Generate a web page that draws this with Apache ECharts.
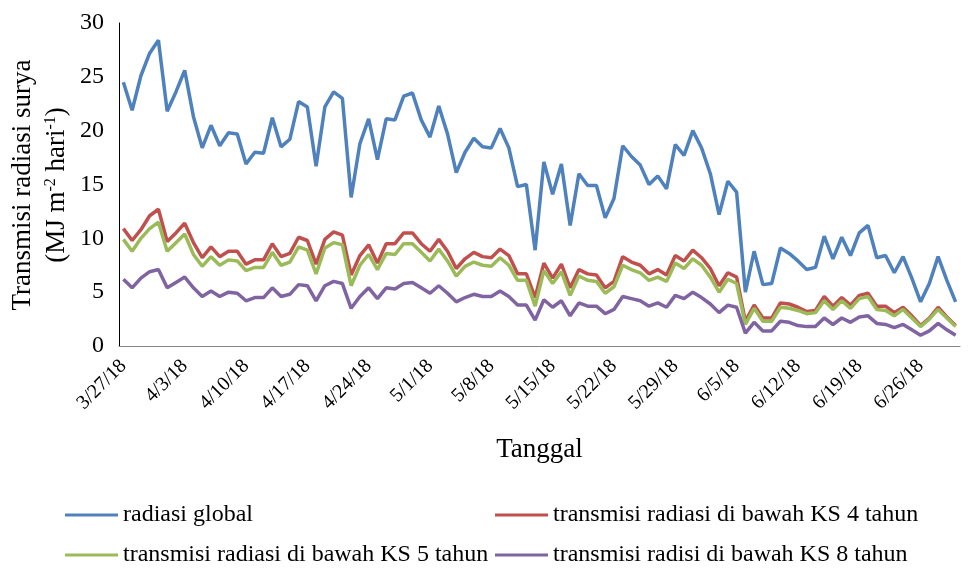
<!DOCTYPE html>
<html>
<head>
<meta charset="utf-8">
<title>Transmisi radiasi surya</title>
<script src="https://cdn.jsdelivr.net/npm/echarts@6.0.0/dist/echarts.min.js"></script>
<style>
  html, body { margin: 0; padding: 0; background: #fff; }
  #chart { width: 969px; height: 574px; }
</style>
</head>
<body>
<div id="chart"></div>
<script>
// daily values, 3/27/18 .. 6/30/18 (96 days)
const startDate = [2018, 3, 27];
const dayCount = 96;

const radiasiGlobal = [
  24.5, 21.9, 25.1, 27.2, 28.4, 21.8, 23.6, 25.6, 21.3, 18.4, 20.5, 18.6, 19.8, 19.7, 16.9, 18.0,
  17.9, 21.2, 18.5, 19.2, 22.7, 22.2, 16.7, 22.2, 23.6, 23.0, 13.8, 18.8, 21.1, 17.3, 21.1, 21.0,
  23.2, 23.5, 21.0, 19.4, 22.3, 19.7, 16.1, 18.0, 19.3, 18.5, 18.4, 20.2, 18.4, 14.8, 15.0, 8.9,
  17.1, 14.1, 16.9, 11.2, 16.0, 14.9, 14.9, 11.9, 13.7, 18.6, 17.6, 16.8, 15.0, 15.8, 14.6, 18.7,
  17.7, 20.0, 18.4, 16.0, 12.2, 15.3, 14.3, 5.0, 8.8, 5.7, 5.8, 9.1, 8.6, 7.9, 7.1, 7.3,
  10.2, 8.1, 10.1, 8.4, 10.5, 11.2, 8.2, 8.4, 6.8, 8.3, 6.3, 4.1, 5.8, 8.3, 6.1, 4.1
];
const ks4 = [
  10.9, 9.8, 10.8, 12.1, 12.7, 9.7, 10.5, 11.4, 9.6, 8.2, 9.2, 8.3, 8.8, 8.8, 7.6, 8.0,
  8.0, 9.5, 8.3, 8.6, 10.1, 9.8, 7.6, 9.9, 10.6, 10.3, 6.6, 8.4, 9.4, 7.7, 9.5, 9.5,
  10.5, 10.5, 9.5, 8.8, 9.9, 8.8, 7.2, 8.1, 8.7, 8.3, 8.2, 9.0, 8.4, 6.7, 6.7, 4.5,
  7.7, 6.3, 7.6, 5.4, 7.1, 6.7, 6.6, 5.4, 6.0, 8.3, 7.8, 7.5, 6.7, 7.1, 6.6, 8.4,
  7.9, 8.9, 8.2, 7.2, 5.6, 6.8, 6.4, 2.3, 3.8, 2.6, 2.6, 4.0, 3.9, 3.6, 3.2, 3.3,
  4.6, 3.7, 4.5, 3.8, 4.7, 4.9, 3.7, 3.7, 3.1, 3.6, 2.8, 1.9, 2.6, 3.6, 2.7, 1.9
];
const ks5 = [
  9.9, 8.8, 10.0, 10.9, 11.5, 8.8, 9.6, 10.4, 8.5, 7.4, 8.3, 7.5, 8.0, 7.9, 7.0, 7.3,
  7.3, 8.7, 7.5, 7.8, 9.2, 8.9, 6.7, 9.1, 9.6, 9.4, 5.6, 7.5, 8.5, 7.1, 8.6, 8.5,
  9.5, 9.5, 8.7, 7.9, 9.0, 7.9, 6.5, 7.4, 7.8, 7.5, 7.4, 8.2, 7.5, 6.1, 6.1, 3.7,
  7.0, 5.8, 6.9, 4.7, 6.5, 6.1, 6.0, 4.9, 5.5, 7.5, 7.1, 6.8, 6.1, 6.4, 6.0, 7.7,
  7.2, 8.1, 7.5, 6.4, 5.0, 6.2, 5.8, 2.0, 3.5, 2.3, 2.3, 3.6, 3.5, 3.3, 3.0, 3.1,
  4.2, 3.4, 4.2, 3.5, 4.4, 4.6, 3.4, 3.3, 2.8, 3.4, 2.6, 1.8, 2.5, 3.4, 2.6, 1.8
];
const ks8 = [
  6.2, 5.4, 6.3, 6.9, 7.1, 5.4, 5.9, 6.4, 5.4, 4.6, 5.1, 4.6, 5.0, 4.9, 4.2, 4.5,
  4.5, 5.4, 4.6, 4.8, 5.7, 5.6, 4.2, 5.6, 6.0, 5.8, 3.5, 4.6, 5.4, 4.4, 5.4, 5.3,
  5.8, 5.9, 5.4, 4.9, 5.6, 4.9, 4.1, 4.5, 4.8, 4.6, 4.6, 5.1, 4.6, 3.8, 3.8, 2.4,
  4.3, 3.6, 4.2, 2.8, 4.0, 3.7, 3.7, 3.0, 3.4, 4.6, 4.4, 4.2, 3.7, 4.0, 3.6, 4.7,
  4.4, 5.0, 4.5, 3.9, 3.1, 3.8, 3.6, 1.2, 2.2, 1.4, 1.4, 2.3, 2.2, 1.9, 1.8, 1.8,
  2.6, 2.0, 2.6, 2.2, 2.7, 2.8, 2.1, 2.0, 1.7, 2.0, 1.5, 1.0, 1.4, 2.1, 1.5, 1.0
];

const seriesNames = [
  "radiasi global",
  "transmisi radiasi di bawah KS 4 tahun",
  "transmisi radiasi di bawah KS 5 tahun",
  "transmisi radisi di bawah KS 8 tahun"
];
const seriesColors = ["#4f81bd", "#c0504d", "#9bbb59", "#8064a2"];

// m/d/yy labels
const dates = [];
for (let i = 0; i < dayCount; i++) {
  const d = new Date(Date.UTC(startDate[0], startDate[1] - 1, startDate[2] + i));
  dates.push((d.getUTCMonth() + 1) + "/" + d.getUTCDate() + "/" + String(d.getUTCFullYear()).slice(2));
}

const FONT = "Liberation Serif";
const chart = echarts.init(document.getElementById("chart"), null, { renderer: "canvas" });

const mkLine = (name, data, color) => ({
  name, type: "line", data, showSymbol: false, symbol: "none",
  lineStyle: { color, width: 3.5 }, itemStyle: { color }, animation: false
});

// one legend per entry, laid out as a 2x2 grid
const mkLegend = (name, left, top) => ({
  left, top, data: [name], itemWidth: 53, itemHeight: 3, icon: "rect", itemGap: 0,
  padding: 0, selectedMode: false,
  textStyle: { fontFamily: FONT, fontSize: 24, color: "#000" }
});

chart.setOption({
  animation: false,
  grid: { left: 119, right: 9, top: 23, bottom: 228, containLabel: false },
  xAxis: {
    type: "category", data: dates, boundaryGap: true,
    axisLine: { lineStyle: { color: "#868686", width: 1 } },
    axisTick: { show: false },
    axisLabel: { interval: 6, rotate: 45, margin: 17, color: "#000", fontFamily: FONT, fontSize: 20 },
    name: "Tanggal", nameLocation: "middle", nameGap: 90,
    nameTextStyle: { color: "#000", fontFamily: FONT, fontSize: 27 }
  },
  yAxis: {
    type: "value", min: 0, max: 30, interval: 5,
    axisLine: { show: true, lineStyle: { color: "#000", width: 1 } },
    axisTick: { show: false },
    splitLine: { show: false },
    axisLabel: { margin: 15, color: "#000", fontFamily: FONT, fontSize: 24 }
  },
  legend: [
    mkLegend(seriesNames[0], 65, 503),
    mkLegend(seriesNames[1], 495, 503),
    mkLegend(seriesNames[2], 65, 543),
    mkLegend(seriesNames[3], 495, 543)
  ],
  graphic: [{
    type: "text", x: 40, y: 185, rotation: Math.PI / 2,
    style: {
      text: "{a|Transmisi radiasi surya}\n{a|(MJ m}{s|-2}{a| hari}{s|-1}{a|)}",
      align: "center", verticalAlign: "middle", fill: "#000",
      rich: {
        a: { fontFamily: FONT, fontSize: 27, lineHeight: 34, fill: "#000" },
        s: { fontFamily: FONT, fontSize: 16, lineHeight: 34, verticalAlign: "top", padding: [3, 0, 0, 0], fill: "#000" }
      }
    }
  }],
  series: [
    mkLine(seriesNames[0], radiasiGlobal, seriesColors[0]),
    mkLine(seriesNames[1], ks4, seriesColors[1]),
    mkLine(seriesNames[2], ks5, seriesColors[2]),
    mkLine(seriesNames[3], ks8, seriesColors[3])
  ]
});
window.addEventListener("resize", () => chart.resize());
</script>
</body>
</html>
